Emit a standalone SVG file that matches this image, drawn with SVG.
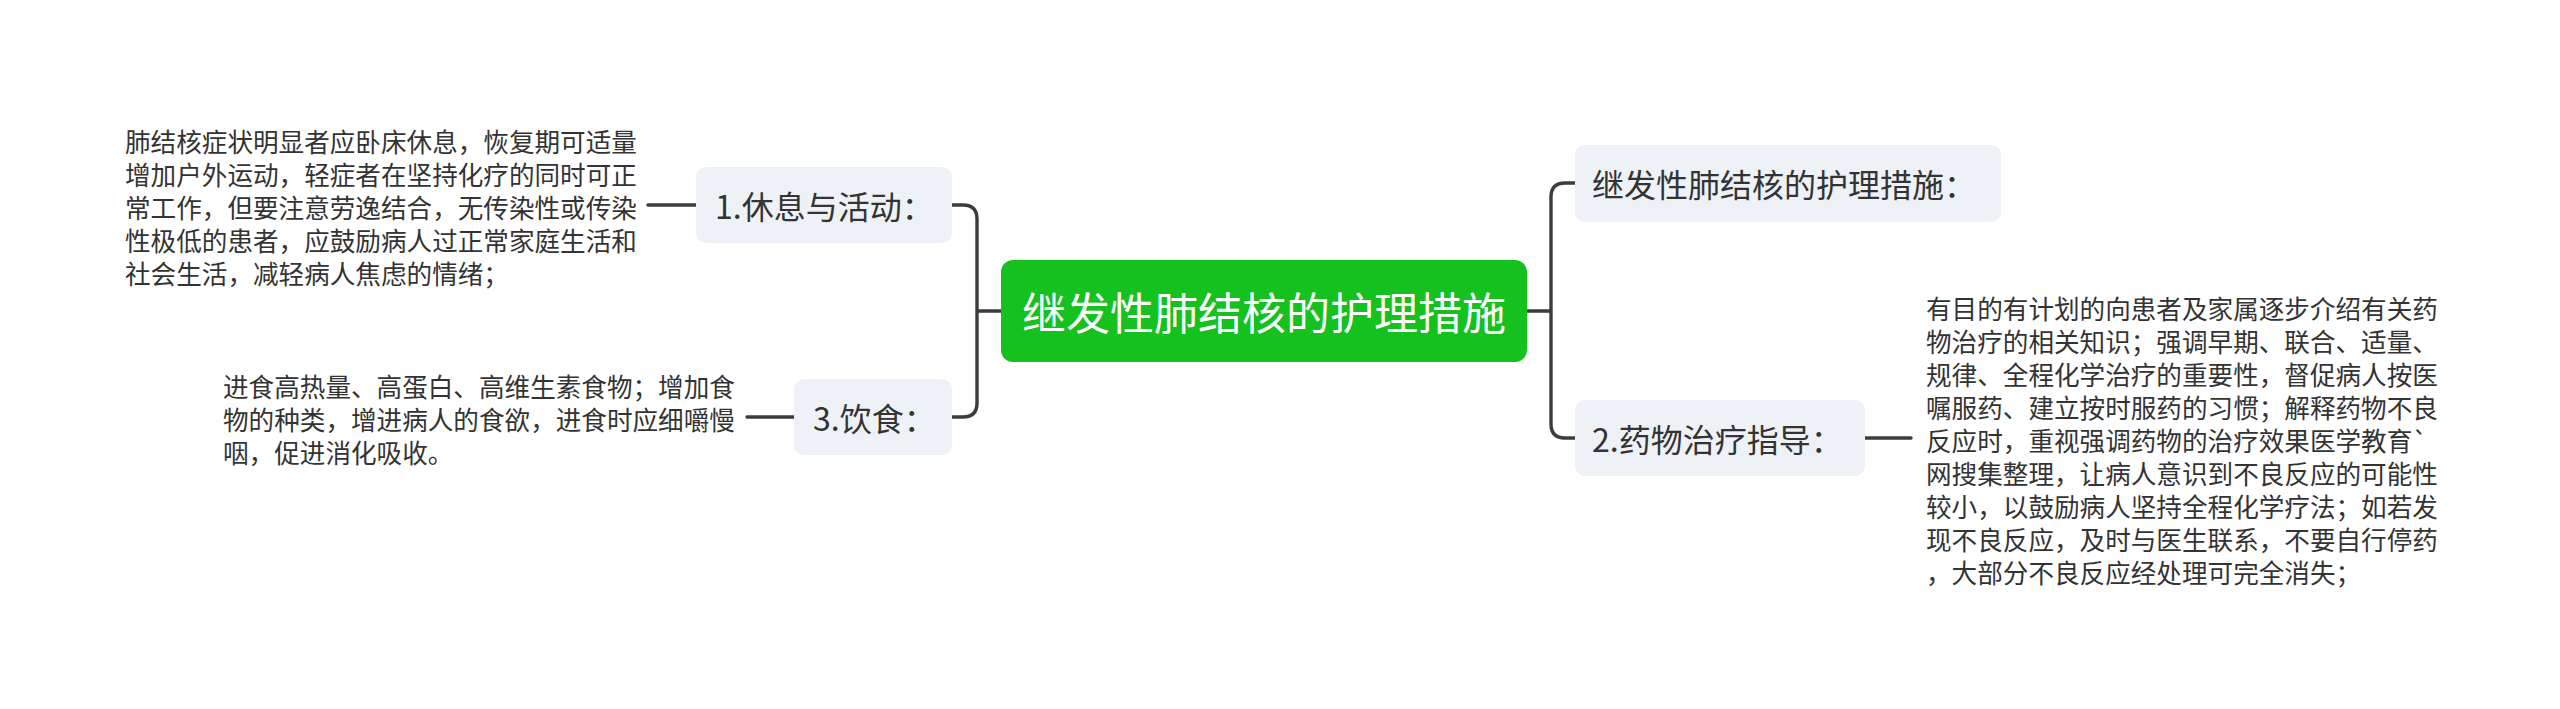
<svg xmlns="http://www.w3.org/2000/svg" width="2560" height="709" viewBox="0 0 2560 709">
<style>
text{font-family:"Noto Sans CJK SC","Noto Sans",sans-serif;dominant-baseline:central;fill:#333333}
.leaf{font-size:25.6px}
.br{font-size:32px}
.brbox{fill:#EEF1F5}
.main{font-size:44px;fill:#FFFFFF;text-anchor:middle}
.conn{fill:none;stroke:#3C3C3C;stroke-width:3.4;stroke-linecap:round}
</style>
<rect width="2560" height="709" fill="#FFFFFF"/>
<g id="connectors">
<path class="conn" d="M1001,311 H977 M952,205 H963 Q977,205 977,219 V403 Q977,417 963,417 H952"/>
<path class="conn" d="M1527,311 H1551 M1575,183 H1565 Q1551,183 1551,197 V424 Q1551,438 1565,438 H1575"/>
<path class="conn" d="M648,205 H696"/>
<path class="conn" d="M747,417 H794"/>
<path class="conn" d="M1865,438 H1911"/>
</g>
<g id="central">
<rect x="1001" y="260" width="526" height="102" rx="12" fill="#15C11F"/>
<text class="main" x="1264" y="311">继发性肺结核的护理措施</text>
</g>
<g id="branch-1">
<rect class="brbox" x="696" y="167" width="256" height="76" rx="10"/>
<text class="br" x="715" y="205">1.休息与活动：</text>
</g>
<g id="branch-3">
<rect class="brbox" x="794" y="379" width="158" height="76" rx="10"/>
<text class="br" x="813" y="417">3.饮食：</text>
</g>
<g id="branch-top">
<rect class="brbox" x="1575" y="145" width="426" height="77" rx="10"/>
<text class="br" x="1592" y="183">继发性肺结核的护理措施：</text>
</g>
<g id="branch-2">
<rect class="brbox" x="1575" y="400" width="290" height="76" rx="10"/>
<text class="br" x="1592" y="438">2.药物治疗指导：</text>
</g>
<g id="leaf-1">
<text class="leaf" x="125" y="140">肺结核症状明显者应卧床休息，恢复期可适量</text>
<text class="leaf" x="125" y="173">增加户外运动，轻症者在坚持化疗的同时可正</text>
<text class="leaf" x="125" y="206">常工作，但要注意劳逸结合，无传染性或传染</text>
<text class="leaf" x="125" y="239">性极低的患者，应鼓励病人过正常家庭生活和</text>
<text class="leaf" x="125" y="272">社会生活，减轻病人焦虑的情绪；</text>
</g>
<g id="leaf-3">
<text class="leaf" x="223" y="385">进食高热量、高蛋白、高维生素食物；增加食</text>
<text class="leaf" x="223" y="418">物的种类，增进病人的食欲，进食时应细嚼慢</text>
<text class="leaf" x="223" y="451">咽，促进消化吸收。</text>
</g>
<g id="leaf-2">
<text class="leaf" x="1926" y="307">有目的有计划的向患者及家属逐步介绍有关药</text>
<text class="leaf" x="1926" y="340">物治疗的相关知识；强调早期、联合、适量、</text>
<text class="leaf" x="1926" y="373">规律、全程化学治疗的重要性，督促病人按医</text>
<text class="leaf" x="1926" y="406">嘱服药、建立按时服药的习惯；解释药物不良</text>
<text class="leaf" x="1926" y="439">反应时，重视强调药物的治疗效果医学教育`</text>
<text class="leaf" x="1926" y="472">网搜集整理，让病人意识到不良反应的可能性</text>
<text class="leaf" x="1926" y="505">较小，以鼓励病人坚持全程化学疗法；如若发</text>
<text class="leaf" x="1926" y="538">现不良反应，及时与医生联系，不要自行停药</text>
<text class="leaf" x="1926" y="571">，大部分不良反应经处理可完全消失；</text>
</g>
</svg>
